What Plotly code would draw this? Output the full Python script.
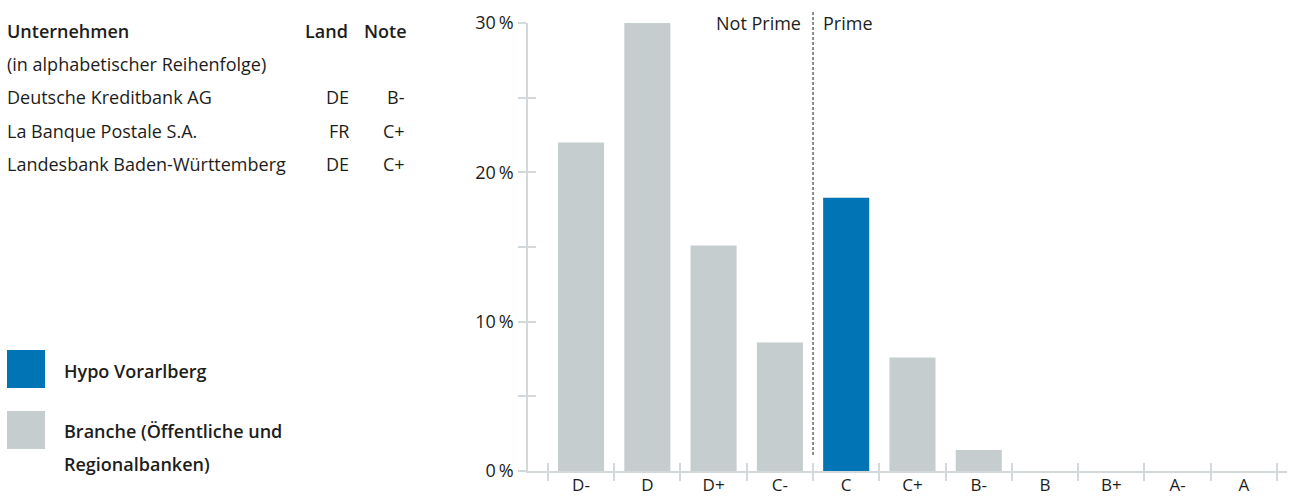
import plotly.graph_objects as go

# ---- data ----
categories = ["D-", "D", "D+", "C-", "C", "C+", "B-", "B", "B+", "A-", "A"]
branche_pct = [22.0, 30.0, 15.1, 8.6, 18.3, 7.6, 1.4, 0, 0, 0, 0]
hypo_rating = "C"
y_tickvals = [0, 5, 10, 15, 20, 25, 30]
y_ticktext = ["0\u2009%", "", "10\u2009%", "", "20\u2009%", "", "30\u2009%"]
companies = ["Deutsche Kreditbank AG", "La Banque Postale S.A.", "Landesbank Baden-Württemberg"]
countries = ["DE", "FR", "DE"]
ratings = ["B-", "C+", "C+"]

W, H = 1290, 497
BLUE = "#0074b5"
GREY = "#c6cdcf"
AXIS = "#d3d9db"
TXT = "#1d1d1b"
FONT = "Open Sans"
FS = 18

colors = [BLUE if c == hypo_rating else GREY for c in categories]

x0, x1 = 528, 1287
ytop, ybot = 23, 471
xdom = [x0 / W, x1 / W]
ydom = [(H - ybot) / H, (H - ytop) / H]

fig = go.Figure()
fig.add_trace(go.Bar(x=list(range(len(categories))), y=branche_pct, marker=dict(color=colors, line=dict(width=0)),
                     width=0.695, hoverinfo="x+y", showlegend=False))
# invisible trace for overlay axes
fig.add_trace(go.Scatter(x=[0], y=[0], xaxis="x2", yaxis="y2", mode="markers",
                         marker=dict(opacity=0), showlegend=False, hoverinfo="skip"))

xr = [-0.8, 10.65]
yr = [0, 30]
boundaries = [i - 0.5 for i in range(len(categories) + 1)]

fig.update_layout(
    width=W, height=H,
    margin=dict(l=0, r=0, t=0, b=0, pad=0, autoexpand=False),
    paper_bgcolor="white", plot_bgcolor="white",
    font=dict(family=FONT, size=FS, color=TXT),
    xaxis=dict(domain=xdom, range=xr, tickmode="array", tickvals=list(range(len(categories))),
               ticktext=categories, ticks="", showgrid=False, zeroline=False, automargin=False,
               showline=True, linecolor=AXIS, linewidth=1.5,
               tickfont=dict(size=17, color=TXT), ticklabelstandoff=-2,
               minor=dict(tickmode="array", tickvals=boundaries, ticks="outside", ticklen=8,
                          tickcolor=AXIS, tickwidth=1.5, showgrid=False)),
    yaxis=dict(domain=ydom, range=yr, tickmode="array", tickvals=y_tickvals,
               ticktext=y_ticktext, automargin=False,
               ticks="outside", ticklen=8, tickcolor=AXIS, tickwidth=1.5,
               showgrid=False, zeroline=False, showline=True, linecolor=AXIS, linewidth=1.5,
               tickfont=dict(size=FS, color=TXT), ticklabelstandoff=1),
    xaxis2=dict(overlaying="x", anchor="y2", range=xr, tickmode="array", tickvals=boundaries,
                ticks="inside", ticklen=8, tickcolor=AXIS, tickwidth=1.5, showticklabels=False,
                showgrid=False, zeroline=False, showline=False, automargin=False),
    yaxis2=dict(overlaying="y", anchor="x2", range=yr, tickmode="array", tickvals=y_tickvals,
                ticks="inside", ticklen=8, tickcolor=AXIS, tickwidth=1.5, showticklabels=False,
                showgrid=False, zeroline=False, showline=False, automargin=False),
)

# Not Prime / Prime divider
fig.add_shape(type="line", xref="x", yref="paper", x0=3.5, x1=3.5, y0=(H - 455) / H, y1=(H - 12) / H,
              line=dict(color="#1d1d1b", width=1, dash="3px,2px"))
fig.add_annotation(xref="x", yref="paper", x=3.5, y=(H - 23) / H, text="Not Prime", showarrow=False,
                   xanchor="right", yanchor="middle", xshift=-10, font=dict(size=FS, color=TXT))
fig.add_annotation(xref="x", yref="paper", x=3.5, y=(H - 23) / H, text="Prime", showarrow=False,
                   xanchor="left", yanchor="middle", xshift=8, font=dict(size=FS, color=TXT))

def ann(text, px, py, anchor="left", bold=False, size=FS):
    fig.add_annotation(xref="paper", yref="paper", x=px / W, y=(H - py) / H, text=text, showarrow=False,
                       xanchor=anchor, yanchor="middle", borderpad=0,
                       font=dict(size=size, color=TXT, family=FONT, weight=600 if bold else 400))

# table header
ann("Unternehmen", 6, 31, bold=True)
ann("Land", 349, 31, anchor="right", bold=True)
ann("Note", 408, 31, anchor="right", bold=True)
ann("(in alphabetischer Reihenfolge)", 6, 64)
for i, (c, l, r) in enumerate(zip(companies, countries, ratings)):
    yy = 97 + i * 33.5
    ann(c, 6, yy)
    ann(l, 350, yy, anchor="right")
    ann(r, 406, yy, anchor="right")

# legend
fig.add_shape(type="rect", xref="paper", yref="paper", x0=7 / W, x1=45 / W, y0=(H - 388) / H, y1=(H - 350) / H,
              fillcolor=BLUE, line=dict(width=0))
fig.add_shape(type="rect", xref="paper", yref="paper", x0=7 / W, x1=45 / W, y0=(H - 449) / H, y1=(H - 411) / H,
              fillcolor=GREY, line=dict(width=0))
ann("Hypo Vorarlberg", 63, 371, bold=True)
ann("Branche (Öffentliche und", 63, 431, bold=True)
ann("Regionalbanken)", 63, 464, bold=True)

fig.write_html("out.html")
